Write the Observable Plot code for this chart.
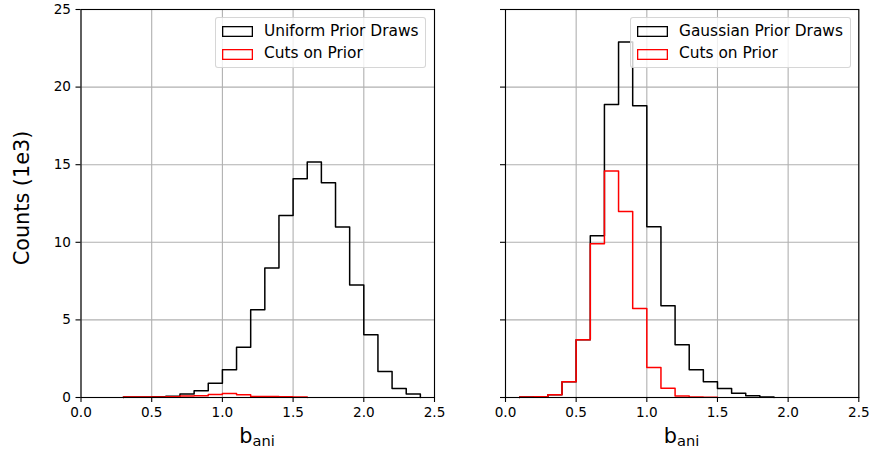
<!DOCTYPE html>
<html>
<head>
<meta charset="utf-8">
<script src="https://cdn.jsdelivr.net/npm/d3@7"></script>
<script src="https://cdn.jsdelivr.net/npm/@observablehq/plot@0.6"></script>
<style>
  body { margin: 0; background: #fff; }
  #wrap { position: relative; width: 872px; height: 451px; font-family: "DejaVu Sans", sans-serif; color: #000; }
  .panel { position: absolute; top: 0; z-index: 0; }
  .legend { position: absolute; z-index: 5; top: 17px; height: 51px; box-sizing: border-box; border: 1px solid rgba(204,204,204,0.8); border-radius: 3px; background: rgba(255,255,255,0.8); }
  .patch { position: absolute; left: 6px; width: 31px; height: 11px; overflow: visible; }
  .ltext { position: absolute; left: 48px; font-size: 15.4px; line-height: 1; white-space: nowrap; transform: translateY(-50%); }
  .xlabel { position: absolute; top: 426px; font-size: 20.8px; line-height: 1; white-space: nowrap; transform: translateX(-50%); }
  .xlabel sub { font-size: 14.6px; vertical-align: -0.22em; line-height: 0; }
  .ylabel { position: absolute; left: 22px; top: 198px; font-size: 20.8px; line-height: 1; white-space: nowrap; transform: translate(-50%, -50%) rotate(-90deg); }
</style>
</head>
<body>
<div id="wrap">
  <div id="left" class="panel" style="left:0px"></div>
  <div id="right" class="panel" style="left:445px"></div>
  <div class="legend" style="left:215px; width:211px">
    <svg class="patch" style="top:8px" width="31" height="11"><rect x="0.65" y="0.65" width="29.7" height="9.7" fill="none" stroke="#000000" stroke-width="1.3"/></svg>
    <div class="ltext" style="top:13.5px">Uniform Prior Draws</div>
    <svg class="patch" style="top:30.5px" width="31" height="11"><rect x="0.65" y="0.65" width="29.7" height="9.7" fill="none" stroke="#ff0000" stroke-width="1.3"/></svg>
    <div class="ltext" style="top:36px">Cuts on Prior</div>
  </div>
  <div class="legend" style="left:630px; width:221px">
    <svg class="patch" style="top:8px" width="31" height="11"><rect x="0.65" y="0.65" width="29.7" height="9.7" fill="none" stroke="#000000" stroke-width="1.3"/></svg>
    <div class="ltext" style="top:13.5px">Gaussian Prior Draws</div>
    <svg class="patch" style="top:30.5px" width="31" height="11"><rect x="0.65" y="0.65" width="29.7" height="9.7" fill="none" stroke="#ff0000" stroke-width="1.3"/></svg>
    <div class="ltext" style="top:36px">Cuts on Prior</div>
  </div>
  <div class="xlabel" style="left:257px">b<sub>ani</sub></div>
  <div class="xlabel" style="left:681.5px">b<sub>ani</sub></div>
  <div class="ylabel">Counts (1e3)</div>
</div>
<script>
const binWidth = 0.1;

// Left panel: uniform prior
const uniformBins = [0.3, 0.4, 0.5, 0.6, 0.7, 0.8, 0.9, 1.0, 1.1, 1.2, 1.3, 1.4, 1.5, 1.6, 1.7, 1.8, 1.9, 2.0, 2.1, 2.2, 2.3];
const uniformCounts = [0.03, 0.04, 0.05, 0.08, 0.22, 0.43, 0.92, 1.78, 3.23, 5.66, 8.34, 11.72, 14.1, 15.18, 13.83, 10.99, 7.25, 4.04, 1.68, 0.58, 0.22];
const uniformCutBins = [0.3, 0.4, 0.5, 0.6, 0.7, 0.8, 0.9, 1.0, 1.1, 1.2, 1.3, 1.4, 1.5];
const uniformCutCounts = [0.03, 0.04, 0.04, 0.05, 0.1, 0.12, 0.2, 0.25, 0.17, 0.07, 0.06, 0.05, 0.04];

// Right panel: gaussian prior
const gaussBins = [0.1, 0.2, 0.3, 0.4, 0.5, 0.6, 0.7, 0.8, 0.9, 1.0, 1.1, 1.2, 1.3, 1.4, 1.5, 1.6, 1.7, 1.8];
const gaussCounts = [0.04, 0.05, 0.17, 1.01, 3.72, 10.43, 18.88, 22.9, 18.8, 11.01, 5.91, 3.40, 1.78, 1.01, 0.58, 0.28, 0.11, 0.04];
const gaussCutBins = [0.1, 0.2, 0.3, 0.4, 0.5, 0.6, 0.7, 0.8, 0.9, 1.0, 1.1, 1.2, 1.3, 1.4];
const gaussCutCounts = [0.04, 0.05, 0.17, 1.01, 3.72, 9.91, 14.6, 11.98, 5.74, 1.94, 0.60, 0.09, 0.03, 0.02];

const xTicks = [0, 0.5, 1.0, 1.5, 2.0, 2.5];
const yTicks = [0, 5, 10, 15, 20, 25];

function outline(bins, counts) {
  const pts = [{x: bins[0], y: 0}];
  bins.forEach((b, i) => pts.push({x: b, y: counts[i]}));
  const end = bins[bins.length - 1] + binWidth;
  pts.push({x: end, y: counts[counts.length - 1]});
  pts.push({x: end, y: 0});
  return pts;
}

function panel({width, marginLeft, marginRight, bins, counts, cutBins, cutCounts, showY}) {
  return Plot.plot({
    width, height: 451,
    marginLeft, marginRight, marginTop: 9, marginBottom: 54,
    x: {domain: [0, 2.5]},
    y: {domain: [0, 25]},
    style: {fontFamily: "DejaVu Sans", fontSize: "13.6px", color: "#000", background: "transparent", overflow: "visible"},
    marks: [
      Plot.gridX(xTicks, {stroke: "#b0b0b0", strokeOpacity: 1, strokeWidth: 1.1}),
      Plot.gridY(yTicks, {stroke: "#b0b0b0", strokeOpacity: 1, strokeWidth: 1.1}),
      Plot.line(outline(bins, counts), {x: "x", y: "y", curve: "step-after", stroke: "#000", strokeWidth: 1.5}),
      Plot.line(outline(cutBins, cutCounts), {x: "x", y: "y", curve: "step-after", stroke: "#f00", strokeWidth: 1.5}),
      Plot.frame({stroke: "#000", strokeWidth: 1.1}),
      Plot.axisX(xTicks, {tickSize: 5, tickPadding: 5, tickFormat: d3.format(".1f"), label: null, strokeWidth: 1.1}),
      Plot.axisY(yTicks, {anchor: "left", tickSize: 5, tickPadding: 5, tickFormat: showY ? (d => String(d)) : (() => ""), label: null, strokeWidth: 1.1})
    ]
  });
}

document.getElementById("left").append(panel({
  width: 445, marginLeft: 80.5, marginRight: 11,
  bins: uniformBins, counts: uniformCounts, cutBins: uniformCutBins, cutCounts: uniformCutCounts, showY: true
}));
document.getElementById("right").append(panel({
  width: 427, marginLeft: 60, marginRight: 13.7,
  bins: gaussBins, counts: gaussCounts, cutBins: gaussCutBins, cutCounts: gaussCutCounts, showY: false
}));
</script>
</body>
</html>
